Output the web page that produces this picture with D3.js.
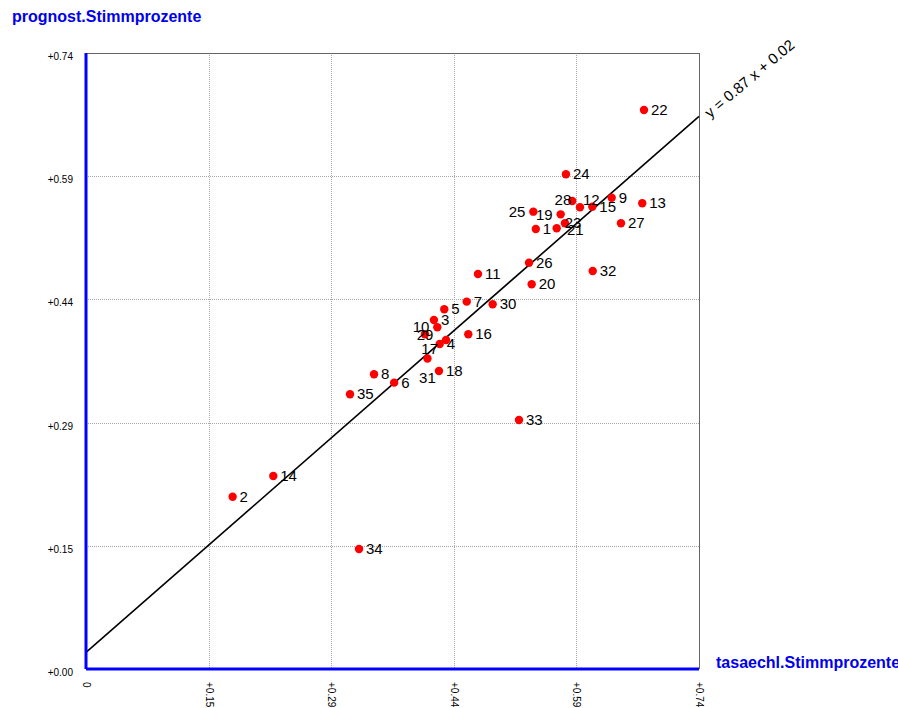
<!DOCTYPE html>
<html>
<head>
<meta charset="utf-8">
<script src="https://cdn.jsdelivr.net/npm/d3@7"></script>
<style>
  html, body { margin: 0; padding: 0; background: #fff; }
  svg { display: block; font-family: "Liberation Sans", Arial, Helvetica, sans-serif; }
</style>
</head>
<body>
<svg id="chart" width="898" height="708"></svg>
<script>
// Wahlkreis numbers and their vote shares
const ids = [1, 2, 3, 4, 5, 6, 7, 8, 9, 10, 11, 12, 13, 14, 15, 16, 17, 18, 19, 20,
             21, 22, 23, 24, 25, 26, 27, 28, 29, 30, 31, 32, 33, 34, 35];
const tasaechl = [0.543, 0.177, 0.420, 0.427, 0.4325, 0.372, 0.4596, 0.3477, 0.6346, 0.4241,
                  0.4732, 0.5963, 0.6715, 0.2261, 0.6112, 0.4615, 0.4346, 0.4261, 0.573, 0.538,
                  0.5782, 0.6736, 0.5682, 0.5794, 0.540, 0.5348, 0.6458, 0.587, 0.4092, 0.4909,
                  0.4122, 0.6117, 0.5227, 0.3296, 0.3187];
const prognost = [0.5286, 0.207, 0.4193, 0.3904, 0.4321, 0.344, 0.4413, 0.354, 0.5662, 0.4105,
                  0.4745, 0.5547, 0.5595, 0.2319, 0.5554, 0.4021, 0.3952, 0.358, 0.5462, 0.4622,
                  0.5354, 0.6716, 0.5294, 0.5943, 0.5494, 0.4881, 0.5354, 0.5622, 0.4021, 0.4381,
                  0.373, 0.4781, 0.2991, 0.1442, 0.330];

const axisMax = 0.74;
const xTickLabels = ["0", "+0.15", "+0.29", "+0.44", "+0.59", "+0.74"];
const yTickLabels = ["+0.00", "+0.15", "+0.29", "+0.44", "+0.59", "+0.74"];
const slope = 0.87, intercept = 0.02;
const xTitle = "tasaechl.Stimmprozente";
const yTitle = "prognost.Stimmprozente";

const svg = d3.select("#chart");
const plotLeft = 86, plotRight = 699, plotTop = 53, plotBottom = 669;

const x = d3.scaleLinear().domain([0, axisMax]).range([plotLeft, plotRight]);
const y = d3.scaleLinear().domain([0, axisMax]).range([plotBottom, plotTop]);
const tickVals = xTickLabels.map((_, i) => i * axisMax / (xTickLabels.length - 1));

// dotted grid
const grid = svg.append("g").attr("stroke", "#a8a8a8").attr("stroke-width", 1)
  .attr("stroke-dasharray", "1,1").attr("fill", "none");
tickVals.slice(1, -1).forEach(v => {
  grid.append("line").attr("x1", Math.round(x(v)) + 0.5).attr("x2", Math.round(x(v)) + 0.5)
    .attr("y1", plotTop).attr("y2", plotBottom);
  grid.append("line").attr("x1", plotLeft).attr("x2", plotRight)
    .attr("y1", Math.round(y(v)) + 0.5).attr("y2", Math.round(y(v)) + 0.5);
});

// frame: grey top/right, blue axes left/bottom
svg.append("line").attr("x1", plotLeft).attr("x2", plotRight).attr("y1", plotTop + 0.5).attr("y2", plotTop + 0.5)
  .attr("stroke", "#666").attr("stroke-width", 1);
svg.append("line").attr("x1", plotRight + 0.5).attr("x2", plotRight + 0.5).attr("y1", plotTop).attr("y2", plotBottom)
  .attr("stroke", "#666").attr("stroke-width", 1);

// tick labels
const xAxis = d3.axisBottom(x).tickValues(tickVals).tickSize(0)
  .tickFormat((d, i) => xTickLabels[i]);
const gx = svg.append("g").attr("transform", `translate(0,${plotBottom})`).call(xAxis);
gx.select(".domain").remove();
gx.selectAll("text")
  .attr("y", 0).attr("dy", "0.35em").attr("x", 0)
  .attr("transform", "translate(0,13) rotate(90)")
  .attr("text-anchor", "start")
  .attr("font-size", 10).attr("fill", "#000")
  .attr("font-family", "'Liberation Sans', Arial, sans-serif");

const yAxis = d3.axisLeft(y).tickValues(tickVals).tickSize(0)
  .tickFormat((d, i) => yTickLabels[i]);
const gy = svg.append("g").attr("transform", `translate(${plotLeft - 13},0)`).call(yAxis);
gy.select(".domain").remove();
gy.selectAll("text")
  .attr("x", 0).attr("dy", "0.65em").attr("text-anchor", "end")
  .attr("font-size", 10).attr("fill", "#000")
  .attr("font-family", "'Liberation Sans', Arial, sans-serif");

// regression line
const line = d3.line().x(d => x(d)).y(d => y(slope * d + intercept));
svg.append("path").datum([0, axisMax]).attr("d", line)
  .attr("stroke", "#000").attr("stroke-width", 1.6).attr("fill", "none");

const endX = x(axisMax) + 11, endY = y(slope * axisMax + intercept) + 2;
svg.append("text")
  .attr("transform", `translate(${endX},${endY}) rotate(-40)`)
  .attr("font-size", 15).attr("fill", "#000")
  .text(`y = ${slope.toFixed(2)} x + ${intercept.toFixed(2)}`);

// blue axes
svg.append("line").attr("x1", plotLeft).attr("x2", plotLeft).attr("y1", plotTop).attr("y2", plotBottom)
  .attr("stroke", "#0000ff").attr("stroke-width", 3);
svg.append("line").attr("x1", plotLeft).attr("x2", plotRight).attr("y1", plotBottom).attr("y2", plotBottom)
  .attr("stroke", "#0000ff").attr("stroke-width", 3);

// axis titles
svg.append("text").attr("x", 12).attr("y", 22)
  .attr("font-size", 16).attr("font-weight", "bold").attr("fill", "#0000ee").text(yTitle);
svg.append("text").attr("x", 716).attr("y", 668)
  .attr("font-size", 16).attr("font-weight", "bold").attr("fill", "#0000ee").text(xTitle);

// points
const pts = ids.map((id, i) => ({ id, xv: tasaechl[i], yv: prognost[i] }));
svg.append("g").selectAll("circle").data(pts).join("circle")
  .attr("cx", d => x(d.xv)).attr("cy", d => y(d.yv)).attr("r", 4.2)
  .attr("fill", "#ff0000");

// labels sit to the right by default; crowded ones are moved aside
const placement = {
  10: { dx: -8, dy: 5, anchor: "end" },
  29: { dx: 0, dy: 6, anchor: "middle" },
  17: { dx: -8, dy: 14, anchor: "end" },
  31: { dx: 0, dy: 24, anchor: "middle" },
  23: { dx: 8, dy: 0, anchor: "start" },
  21: { dx: 2, dy: 12, anchor: "start" },
  25: { dx: -8, dy: 5, anchor: "end" },
  19: { dx: -8, dy: 6, anchor: "end" },
  28: { dx: -1, dy: 4, anchor: "end" },
  12: { dx: 3, dy: -2, anchor: "start" }
};
svg.append("g").selectAll("text").data(pts).join("text")
  .attr("x", d => x(d.xv) + (placement[d.id] ? placement[d.id].dx : 7))
  .attr("y", d => y(d.yv) + (placement[d.id] ? placement[d.id].dy : 5))
  .attr("text-anchor", d => placement[d.id] ? placement[d.id].anchor : "start")
  .attr("font-size", 15).attr("fill", "#000")
  .text(d => d.id);
</script>
</body>
</html>
